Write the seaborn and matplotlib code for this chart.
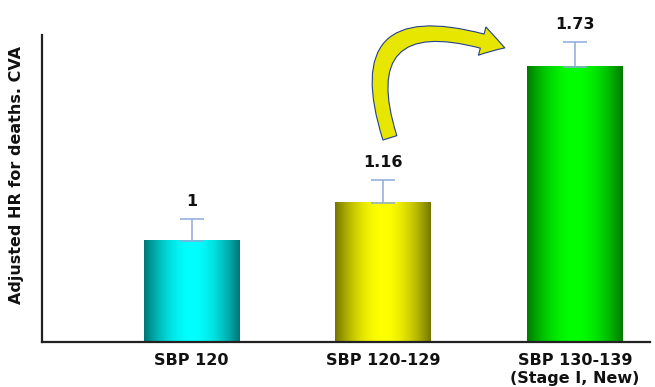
import numpy as np
import pandas as pd
import matplotlib
matplotlib.use("Agg")
import matplotlib.pyplot as plt
import matplotlib.colors as mcolors
from matplotlib.patches import FancyArrowPatch
from matplotlib.path import Path
import seaborn as sns

# Adjusted hazard ratios for CVA deaths by systolic blood pressure group
categories = ["SBP 120", "SBP 120-129", "SBP 130-139\n(Stage I, New)"]
hazard_ratios = [1.0, 1.16, 1.73]
upper_errors = [0.092, 0.097, 0.105]
value_labels = ["1", "1.16", "1.73"]

# colour pairs for each bar: (edge shade, centre highlight)
bar_edge_colors = ["#007474", "#737300", "#007800"]
bar_center_colors = ["#00ffff", "#ffff00", "#00ff00"]

df = pd.DataFrame({"group": categories, "hr": hazard_ratios})

sns.set_theme(style="white")
plt.rcParams["font.family"] = ["DejaVu Sans"]

fig = plt.figure(figsize=(6.55, 3.87), dpi=100)
ax = fig.add_axes([0.0641, 0.1163, 0.9279, 0.7933])

sns.barplot(data=df, x="group", y="hr", hue="group", palette=bar_center_colors,
            width=0.5, legend=False, ax=ax, linewidth=0)

XLIM = (-0.78, 2.39)
YLIM = (0.575, 1.864)
ax.set_xlim(*XLIM)
ax.set_ylim(*YLIM)

# horizontal shading on each bar: dark at the sides, bright in the middle
t = np.linspace(0, 1, 256)
profile = np.sin(np.pi * t) ** 0.9
for patch, c_edge, c_mid in zip(ax.patches, bar_edge_colors, bar_center_colors):
    e = np.array(mcolors.to_rgb(c_edge))
    m = np.array(mcolors.to_rgb(c_mid))
    grad = e[None, :] + (m - e)[None, :] * profile[:, None]
    x0, w = patch.get_x(), patch.get_width()
    top = patch.get_y() + patch.get_height()
    ax.imshow(grad[None, :, :], extent=[x0, x0 + w, YLIM[0], top],
              aspect="auto", zorder=2, interpolation="bilinear")
    patch.set_facecolor("none")

ax.set_xlim(*XLIM)
ax.set_ylim(*YLIM)

xpos = np.arange(len(categories))
ax.errorbar(xpos, hazard_ratios, yerr=[np.zeros(len(upper_errors)), upper_errors],
            fmt="none", ecolor="#8eaadb", elinewidth=1.1, capsize=8.5,
            capthick=1.1, zorder=3)

for x, v, err, lab in zip(xpos, hazard_ratios, upper_errors, value_labels):
    ax.annotate(lab, (x, v + err), xytext=(0, 7), textcoords="offset points",
                ha="center", va="bottom", fontsize=11.5, fontweight="bold",
                color="#111111")

# curved call-out arrow from the middle bar up to the highest bar
arc = Path([(0.5724, 0.665), (0.4984, 1.130), (0.7615, 0.958)],
           [Path.MOVETO, Path.CURVE3, Path.CURVE3])
arrow = FancyArrowPatch(path=arc, transform=ax.transAxes,
                        arrowstyle="simple,head_length=1.7,head_width=2.1,tail_width=1.05",
                        mutation_scale=10, facecolor="#e6e600",
                        edgecolor="#24408e", linewidth=0.8, zorder=5,
                        clip_on=False)
ax.add_patch(arrow)

ax.set_xlabel("")
ax.set_ylabel("Adjusted HR for deaths. CVA", fontsize=11.5, fontweight="bold",
              color="#111111")
ax.yaxis.set_label_coords(-0.03, 0.545)
ax.set_yticks([])
ax.tick_params(axis="x", length=0, pad=8)
for lab in ax.get_xticklabels():
    lab.set_fontsize(11.5)
    lab.set_fontweight("bold")
    lab.set_color("#111111")

sns.despine(ax=ax, top=True, right=True)
for side in ("left", "bottom"):
    ax.spines[side].set_color("#222222")
    ax.spines[side].set_linewidth(1.6)

fig.savefig("out.png", dpi=100)
